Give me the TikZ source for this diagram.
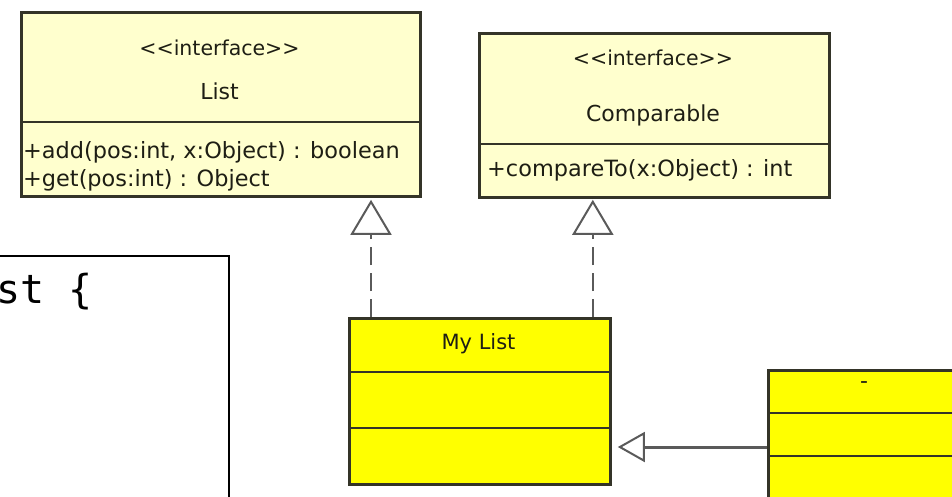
\documentclass[tikz,border=0pt]{standalone}
\usepackage{fontspec}
\newfontfamily\umlfont{DejaVu Sans}
\newfontfamily\codefont{DejaVu Sans Mono}
\usetikzlibrary{arrows.meta}

\definecolor{ifacefill}{RGB}{255,255,206}
\definecolor{classfill}{RGB}{255,255,0}
\definecolor{boxline}{RGB}{52,52,40}
\definecolor{linkgray}{RGB}{90,90,90}
\definecolor{umltext}{RGB}{30,30,20}

\tikzset{
  ifacebox/.style={draw=boxline, fill=ifacefill, line width=2.8pt,
    anchor=north west, inner sep=0pt, rectangle},
  classbox/.style={draw=boxline, fill=classfill, line width=2.8pt,
    anchor=north west, inner sep=0pt, rectangle},
  divider/.style={draw=boxline, line width=2.6pt},
  stereo/.style={font=\umlfont\fontsize{20.5}{23}\selectfont, text=umltext, inner sep=0pt},
  umlname/.style={font=\umlfont\fontsize{22}{24}\selectfont, text=umltext, inner sep=0pt},
  oper/.style={font=\umlfont\fontsize{22.4}{25}\selectfont, text=umltext, inner sep=0pt, anchor=west},
  realize/.style={draw=linkgray, line width=2.6pt, dash pattern=on 18pt off 8pt,
    -{Triangle[length=35pt, width=41pt, fill=white, line width=2pt]}},
  inherit/.style={draw=linkgray, line width=3pt,
    -{Triangle[length=27pt, width=30pt, fill=white, line width=2pt]}},
}

\begin{document}
\begin{tikzpicture}[x=1pt, y=-1pt]
  \useasboundingbox (0,0) rectangle (952,496);
  \clip (0,0) rectangle (952,496);

  % code listing panel, partly off the page
  \node[draw=black, fill=white, line width=2pt, anchor=north east, inner sep=0pt,
        minimum width=260pt, minimum height=260pt] (code) at (230,255) {};
  \node[font=\codefont\fontsize{40}{44}\selectfont, anchor=base west, inner sep=0pt]
        (codeline) at (-4,303) {st {\char`\{}};

  % interface List
  \node[ifacebox, minimum width=399pt, minimum height=184pt] (list) at (20,11) {};
  \draw[divider] (20,122) -- (419,122);
  \node[stereo] (liststereo) at (219.5,48) {<{}<interface>{}>};
  \node[umlname] (listname) at (219.5,91) {List};
  \node[oper] (listadd) at (23,152) {+add(pos:int, x:Object) : boolean};
  \node[oper] (listget) at (23,180) {+get(pos:int) : Object};

  % interface Comparable
  \node[ifacebox, minimum width=350pt, minimum height=164pt] (comp) at (478,32) {};
  \draw[divider] (478,144) -- (828,144);
  \node[stereo] (compstereo) at (653,58) {<{}<interface>{}>};
  \node[umlname] (compname) at (653,115) {Comparable};
  \node[oper] (compop) at (487,170) {+compareTo(x:Object) : int};

  % class My List
  \node[classbox, minimum width=261pt, minimum height=166pt] (mylist) at (348,317) {};
  \draw[divider] (348,372) -- (609,372);
  \draw[divider] (348,428) -- (609,428);
  \node[umlname, font=\umlfont\fontsize{21}{24}\selectfont] (mylistname) at (478.5,344) {My List};

  % unnamed subclass, running off the page
  \node[classbox, minimum width=200pt, minimum height=160pt] (sub) at (767,369) {};
  \draw[divider] (767,413) -- (967,413);
  \draw[divider] (767,456) -- (967,456);
  \node[umlname] (subname) at (864,385) {-};

  % realization links
  \draw[realize, shorten >=2pt] ([xshift=23pt]mylist.north west)
       -- ([xshift=23pt]mylist.north west |- list.south);
  \draw[realize, shorten >=1pt] ([xshift=-19pt]mylist.north east)
       -- ([xshift=-19pt]mylist.north east |- comp.south);

  % generalization link
  \draw[inherit, shorten >=6pt] (sub.west |- 0,447) -- (mylist.east |- 0,447);
\end{tikzpicture}
\end{document}
